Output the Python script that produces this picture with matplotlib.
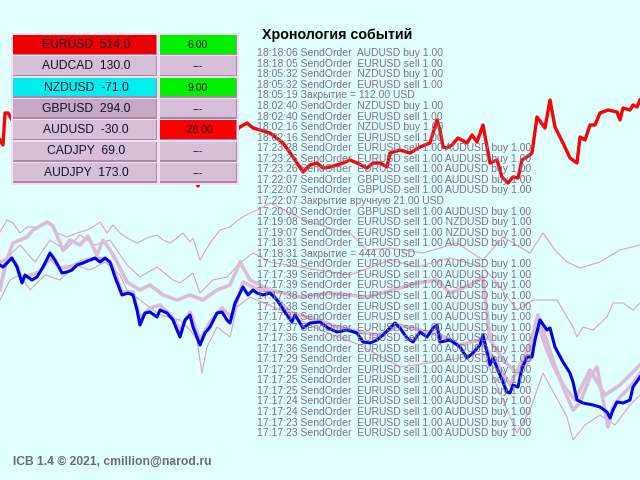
import matplotlib
matplotlib.use("Agg")
import matplotlib.pyplot as plt
from matplotlib.patches import Rectangle

plt.rcParams['font.family'] = ['Liberation Sans', 'DejaVu Sans']

BG = '#E0FFFF'

# --- data: pair table ---
pairs = ['EURUSD', 'AUDCAD', 'NZDUSD', 'GBPUSD', 'AUDUSD', 'CADJPY', 'AUDJPY']
points = [514.0, 130.0, -71.0, 294.0, -30.0, 69.0, 173.0]
profits = ['6.00', '---', '9.00', '---', '-28.00', '---', '---']
name_colors = ['#EE0000', '#D8BFD8', '#00EEEE', '#C4A8C4', '#D8BFD8', '#D8BFD8', '#D8BFD8']
profit_colors = ['#00F000', '#D8BFD8', '#00F000', '#D8BFD8', '#FF0000', '#D8BFD8', '#D8BFD8']

# --- data: event log ---
log_title = 'Хронология событий'
log_lines = [
    '18:18:06 SendOrder  AUDUSD buy 1.00',
    '18:18:05 SendOrder  EURUSD sell 1.00',
    '18:05:32 SendOrder  NZDUSD buy 1.00',
    '18:05:32 SendOrder  EURUSD sell 1.00',
    '18:05:19 Закрытие = 112.00 USD',
    '18:02:40 SendOrder  NZDUSD buy 1.00',
    '18:02:40 SendOrder  EURUSD sell 1.00',
    '18:02:16 SendOrder  NZDUSD buy 1.00',
    '18:02:16 SendOrder  EURUSD sell 1.00',
    '17:23:28 SendOrder  EURUSD sell 1.00 AUDUSD buy 1.00',
    '17:23:26 SendOrder  EURUSD sell 1.00 AUDUSD buy 1.00',
    '17:23:26 SendOrder  EURUSD sell 1.00 AUDUSD buy 1.00',
    '17:22:07 SendOrder  GBPUSD sell 1.00 AUDUSD buy 1.00',
    '17:22:07 SendOrder  GBPUSD sell 1.00 AUDUSD buy 1.00',
    '17:22:07 Закрытие вручную 21.00 USD',
    '17:20:00 SendOrder  GBPUSD sell 1.00 AUDUSD buy 1.00',
    '17:19:08 SendOrder  EURUSD sell 1.00 NZDUSD buy 1.00',
    '17:19:07 SendOrder  EURUSD sell 1.00 NZDUSD buy 1.00',
    '17:18:31 SendOrder  EURUSD sell 1.00 AUDUSD buy 1.00',
    '17:18:31 Закрытие = 444.00 USD',
]
for t in ['17:17:39', '17:17:39', '17:17:39', '17:17:38', '17:17:38',
          '17:17:37', '17:17:37', '17:17:36', '17:17:36', '17:17:29',
          '17:17:29', '17:17:25', '17:17:25', '17:17:24', '17:17:24',
          '17:17:23', '17:17:23']:
    log_lines.append(t + ' SendOrder  EURUSD sell 1.00 AUDUSD buy 1.00')

footer = 'ICB 1.4 © 2021, cmillion@narod.ru'

# --- data: price lines (bar, level) ---
eur_x = [0, 3, 5, 8, 12, 30, 60, 90, 120, 150, 180, 198, 210, 237, 240, 247, 253,
         260, 270, 283, 293, 303, 310, 317, 323, 330, 337, 343, 350, 357, 367, 373,
         380, 387, 390, 400, 410, 420, 430, 437, 440, 443, 447, 452, 458, 467, 472,
         477, 483, 490, 497, 502, 508, 513, 518, 522, 527, 532, 537, 545, 550, 555,
         563, 570, 577, 580, 585, 590, 595, 600, 608, 617, 620, 623, 630, 633, 637, 640]
eur_y = [140, 145, 113, 113, 120, 110, 100, 115, 95, 120, 150, 186, 160, 130, 127, 123, 128,
         130, 133, 143, 157, 172, 165, 163, 168, 167, 165, 163, 160, 163, 168, 163,
         163, 167, 153, 150, 153, 147, 143, 120, 130, 147, 148, 145, 138, 143, 135,
         142, 125, 163, 160, 177, 183, 177, 178, 160, 157, 153, 117, 128, 100, 127,
         143, 158, 163, 137, 140, 125, 125, 113, 110, 112, 120, 108, 110, 105, 107, 100]

aud_x = [0, 3, 12, 17, 22, 25, 32, 37, 43, 50, 55, 62, 67, 72, 77, 83, 90, 95, 100,
         105, 110, 115, 122, 128, 133, 137, 140, 145, 150, 157, 160, 167, 173, 177,
         180, 185, 190, 193, 200, 205, 210, 217, 222, 227, 230, 235, 243, 248, 253,
         257, 263, 270, 277, 287, 292, 295, 303, 310, 320, 328, 337, 347, 357, 363,
         370, 377, 383, 390, 395, 400, 407, 413, 420, 427, 433, 437, 440, 450, 460,
         467, 473, 480, 483, 487, 490, 493, 500, 507, 510, 513, 518, 522, 527, 532,
         535, 540, 547, 550, 555, 563, 570, 573, 577, 583, 593, 600, 607, 610, 613,
         617, 623, 630, 633, 640]
aud_y = [265, 267, 258, 267, 283, 275, 280, 277, 267, 253, 260, 273, 272, 270, 265, 263, 260, 258, 262,
         258, 262, 277, 295, 293, 295, 310, 325, 313, 312, 317, 310, 313, 320, 330,
         337, 320, 315, 327, 345, 333, 327, 313, 312, 320, 323, 303, 287, 295, 290,
         293, 295, 293, 300, 315, 322, 315, 328, 323, 322, 328, 332, 330, 333, 342,
         343, 340, 335, 328, 323, 328, 338, 342, 332, 337, 328, 325, 342, 340, 347,
         358, 353, 345, 335, 352, 365, 358, 375, 392, 393, 385, 387, 368, 357, 357,
         340, 320, 330, 328, 347, 362, 373, 382, 400, 403, 405, 407, 412, 418, 410,
         402, 403, 400, 387, 377]

pinkA_x = [0, 10, 17, 22, 30, 40, 50, 60, 72, 85, 100, 112, 122, 133, 140, 150, 160,
           173, 180, 190, 200, 210, 222, 232, 243, 255, 270, 290, 310, 335, 360, 380,
           400, 420, 440, 460, 480, 495, 510, 530, 538, 545, 553, 563, 573, 580, 590,
           597, 603, 608, 613, 620, 627, 633, 640]
pinkA_y = [262, 258, 265, 280, 275, 272, 258, 268, 266, 260, 258, 265, 292, 292, 318, 308, 305,
           318, 330, 312, 340, 322, 308, 318, 282, 288, 292, 312, 318, 326, 332, 335,
           325, 330, 335, 345, 340, 360, 385, 345, 315, 335, 360, 387, 410, 403, 377,
           367, 400, 427, 407, 397, 390, 383, 373]

pinkB_x = [0, 5, 13, 27, 33, 47, 53, 63, 70, 80, 88, 97, 103, 110, 117, 127, 140, 150,
           163, 177, 190, 203, 217, 230, 240, 250, 270, 300, 330, 367, 400, 417, 437,
           450, 470, 483, 490, 503, 517, 530, 537, 545, 553, 563, 575, 590, 605, 620,
           640]
pinkB_y = [290, 265, 243, 237, 230, 222, 226, 250, 240, 245, 236, 255, 240, 250, 262, 282, 290, 285,
           295, 300, 295, 300, 290, 285, 262, 280, 290, 297, 293, 297, 288, 283, 280,
           293, 285, 277, 340, 360, 373, 360, 320, 345, 365, 385, 400, 370, 395, 385,
           365]

thin1_x = [0, 7, 13, 20, 27, 40, 50, 57, 67, 77, 87, 93, 100, 107, 113, 120, 127, 137,
           147, 157, 163, 170, 177, 183, 190, 193, 200, 210, 220, 230, 238, 250, 257,
           270, 290, 310, 330, 350, 367, 390, 423, 457, 483, 503, 530, 543, 555, 567,
           580, 600, 620, 640]
thin1_y = [232, 220, 223, 233, 227, 227, 222, 233, 237, 233, 230, 227, 222, 233, 225, 233, 238, 243,
           238, 235, 240, 243, 238, 233, 242, 238, 260, 243, 230, 227, 220, 213, 210,
           203, 213, 222, 228, 233, 250, 248, 253, 243, 260, 237, 253, 233, 250, 262,
           268, 262, 250, 245]

thin2_x = [0, 10, 20, 35, 50, 65, 80, 95, 110, 127, 140, 157, 173, 180, 193, 200, 213,
           227, 240, 253, 270, 317, 350, 390, 417, 450, 483, 497, 517, 533, 547, 557,
           567, 573, 577, 583, 593, 607, 613, 623, 633, 640]
thin2_y = [290, 255, 245, 262, 240, 250, 235, 245, 240, 265, 277, 267, 280, 283, 273, 293, 280,
           277, 263, 253, 262, 270, 275, 260, 267, 258, 267, 283, 310, 300, 300, 300,
           317, 327, 337, 327, 330, 317, 303, 303, 310, 303]

thin3_x = [0, 10, 20, 30, 45, 60, 75, 90, 105, 120, 127, 140, 160, 180, 190, 197, 202,
           207, 217, 230, 237, 250, 280, 320, 360, 400, 450, 483, 503, 517, 530, 543,
           555, 567, 573, 585, 600, 615, 630, 640]
thin3_y = [300, 280, 275, 290, 275, 280, 265, 270, 262, 275, 290, 300, 315, 320, 330, 340, 373,
           347, 327, 337, 307, 297, 310, 330, 345, 367, 360, 353, 400, 433, 410, 373,
           395, 417, 440, 425, 415, 425, 405, 395]

fig = plt.figure(figsize=(6.4, 4.8), dpi=100)
fig.patch.set_facecolor(BG)
ax = fig.add_axes([0, 0, 1, 1])
ax.set_facecolor(BG)
ax.set_xlim(0, 640)
ax.set_ylim(480, 0)
ax.axis('off')

# thin and thick lines of the other pairs
for xs, ys in [(thin1_x, thin1_y), (thin2_x, thin2_y), (thin3_x, thin3_y)]:
    ax.plot(xs, ys, color='#D6A2CC', lw=0.8, zorder=2)
for xs, ys in [(pinkB_x, pinkB_y), (pinkA_x, pinkA_y)]:
    ax.plot(xs, ys, color='#D8BCD8', lw=2.6, zorder=2.2)
ax.plot(aud_x, aud_y, color='#0000EE', lw=2.2, zorder=2.5)
ax.plot(eur_x, eur_y, color='#FF0000', lw=2.4, zorder=2.6)

# event log
ax.text(262, 35, log_title, fontsize=10.3, fontweight='bold', color='black',
        va='center', ha='left', zorder=3)
for i, line in enumerate(log_lines):
    ax.text(257, 53.3 + i * 10.55, line, fontsize=7.45, color='#7C7088',
            va='center', ha='left', zorder=3)

# pair table
ax.add_patch(Rectangle((11, 33), 228, 152, facecolor='#F6DDF6', edgecolor='none', zorder=4))
row_h = 21.3
for i in range(len(pairs)):
    top = 35 + i * row_h
    for (x0, w, fc) in [(13, 144, name_colors[i]), (160, 77, profit_colors[i])]:
        ax.add_patch(Rectangle((x0, top), w, 20, facecolor='#A888A8', edgecolor='none', zorder=5))
        ax.add_patch(Rectangle((x0, top), w - 1.5, 18.5, facecolor=fc, edgecolor='none', zorder=5.1))
    ax.text(86, top + 10, f'{pairs[i]}  {points[i]:.1f}', fontsize=8.7, color='#101030',
            ha='center', va='center', zorder=6)
    ax.text(198, top + 10, profits[i], fontsize=7.6, color='#101010',
            ha='center', va='center', zorder=6)

ax.text(13, 462, footer, fontsize=8.7, fontweight='bold', color='#6A6A7A',
        ha='left', va='center', zorder=3)

fig.savefig('out.png', dpi=100, facecolor=BG)
